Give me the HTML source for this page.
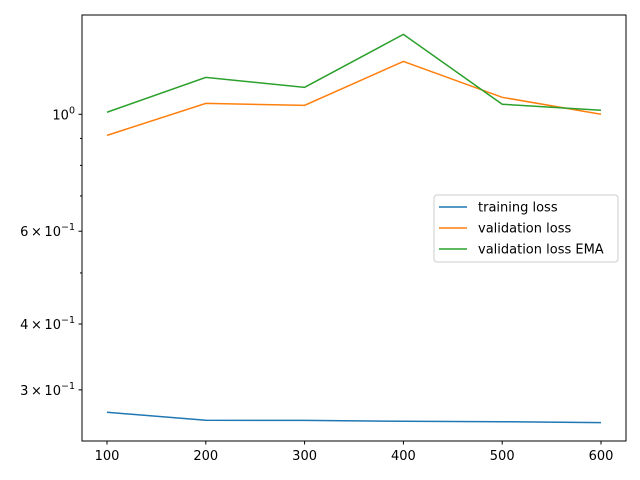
<!DOCTYPE html>
<html><head><meta charset="utf-8"><style>
body{margin:0;background:#fff;font-family:"DejaVu Sans","Liberation Sans",sans-serif;}
svg{display:block}
</style></head><body>
<svg id="chart" width="640" height="480" xmlns="http://www.w3.org/2000/svg" font-family="DejaVu Sans, Liberation Sans, sans-serif">
<rect width="640" height="480" fill="#fff"/>
<g id="plot"></g>
</svg>
<script>
const steps=[100,200,300,400,500,600];
const trainingLoss=[0.272,0.2627,0.2625,0.2615,0.261,0.260];
const validationLoss=[0.912,1.049,1.040,1.26,1.077,1.0];
const validationEma=[1.009,1.175,1.125,1.418,1.045,1.018];
const xTicks=[100,200,300,400,500,600];
const yMajor=[{v:1,m:"10",e:"0"},{v:0.6,m:"6\u2009\u00d7\u200910",e:"\u22121"},{v:0.4,m:"4\u2009\u00d7\u200910",e:"\u22121"},{v:0.3,m:"3\u2009\u00d7\u200910",e:"\u22121"}];
const yMinor=[0.5,0.7,0.8,0.9];
const L=82,R=626,T=15,B=441;
const xs=v=>107+(v-100)*(601-107)/500;
const ys=v=>114.3-Math.log10(v)*527;
const ns="http://www.w3.org/2000/svg";
const g=document.getElementById('plot');
function mk(tag,attrs){const e=document.createElementNS(ns,tag);for(const k in attrs)e.setAttribute(k,attrs[k]);g.appendChild(e);return e;}
const series=[[trainingLoss,'#1f77b4','training-loss-line'],[validationLoss,'#ff7f0e','validation-loss-line'],[validationEma,'#2ca02c','validation-ema-line']];
series.forEach(([d,c,n])=>{
 const p=mk('polyline',{points:d.map((v,i)=>xs(steps[i])+','+ys(v)).join(' '),fill:'none',stroke:c,'stroke-width':1.5});
 
 
});
const frame=mk('rect',{x:L,y:T,width:R-L,height:B-T,fill:'none',stroke:'#000','stroke-width':1});


xTicks.forEach(v=>{
 mk('line',{x1:xs(v),x2:xs(v),y1:B,y2:B+3.5,stroke:'#000'});
 const t=mk('text',{x:xs(v),y:B+19,'text-anchor':'middle','font-size':13});
 t.textContent=v;
 
 
});
yMajor.forEach(o=>{
 const y=ys(o.v);
 mk('line',{x1:L-3.5,x2:L,y1:y,y2:y,stroke:'#000'});
 const t=mk('text',{x:L-7,y:y+5,'text-anchor':'end','font-size':13});
 
 
 const a=document.createElementNS(ns,'tspan');a.textContent=o.m;t.appendChild(a);
 const b=document.createElementNS(ns,'tspan');b.setAttribute('dy','-6');b.setAttribute('font-size','9.5');b.textContent=o.e;t.appendChild(b);
});
yMinor.forEach(v=>{const y=ys(v);mk('line',{x1:L-2,x2:L,y1:y,y2:y,stroke:'#000'});});
const lg=mk('rect',{x:434,y:195,width:184,height:67,fill:'#fff',stroke:'#ccc',rx:3});


const names=['training loss','validation loss','validation loss EMA'];
series.forEach(([d,c],i)=>{
 const y=207+i*21;
 mk('line',{x1:439,x2:467,y1:y,y2:y,stroke:c,'stroke-width':1.5});
 const t=mk('text',{x:478,y:y+4.5,'font-size':13});
 t.textContent=names[i];
 
 
});
</script>
</body></html>
